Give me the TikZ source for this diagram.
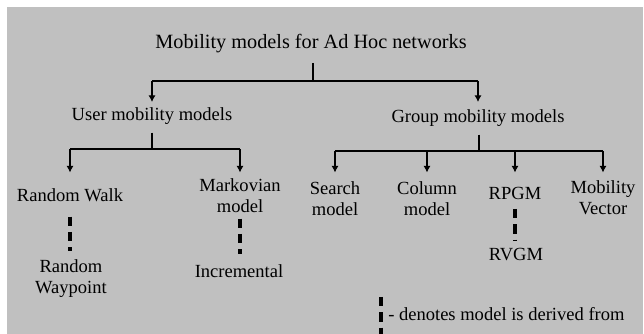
\documentclass[tikz,border=0pt]{standalone}
\usepackage{fontspec}
\setmainfont{Liberation Serif}
\usetikzlibrary{arrows.meta}
\definecolor{panelgray}{RGB}{192,192,192}

\begin{document}
\begin{tikzpicture}[x=0.75pt, y=-0.75pt,
  label/.style={inner sep=2pt, align=center, font=\fontsize{13.9}{15.75}\selectfont},
  bar/.style={line width=1.6pt},
  stem/.style={line width=1.1pt},
  branch/.style={-{Latex[length=5pt,width=5.5pt]}, line width=2pt},
  derived/.style={line width=2.5pt, dash pattern=on 7pt off 4.5pt}]
\useasboundingbox (0,0) rectangle (644,334);
\fill[panelgray] (7,7) rectangle (643,334);

\coordinate (rootbar) at (313,81);
\coordinate (midrow) at (0,102);
\coordinate (userbar) at (152,149);
\coordinate (groupbar) at (479,151);
\coordinate (leafrow) at (0,172.5);

\node[label, font=\fontsize{15.2}{18}\selectfont, anchor=base] (root) at (311,49) {Mobility models for Ad Hoc networks};
\node[label, anchor=base] (user) at (152,121) {User mobility models};
\node[label, anchor=base] (group) at (478,123) {Group mobility models};

\node[label, anchor=north] (rw) at (70,185.3) {Random Walk};
\node[label, anchor=north] (mark) at (240,175.3) {Markovian\\model};
\node[label, anchor=north] (search) at (335,178.3) {Search\\model};
\node[label, anchor=north] (column) at (427,178.3) {Column\\model};
\node[label, anchor=north] (rpgm) at (515,184.3) {RPGM};
\node[label, anchor=north] (mobvec) at (603,177.3) {Mobility\\Vector};

\node[label, anchor=north] (rwp) at (71,256.3) {Random\\Waypoint};
\node[label, anchor=north] (incr) at (239,261.3) {Incremental};
\node[label, anchor=north] (rvgm) at (516,245.3) {RVGM};

% tree
\draw[stem, shorten <=5pt] (root.south -| rootbar) -- (rootbar);
\draw[bar] (user |- rootbar) -- (group |- rootbar);
\foreach \n in {user,group}
  \draw[branch] (\n |- rootbar) -- (\n |- midrow);

\draw[stem, shorten <=3.5pt] (user.south) -- (userbar);
\draw[bar] (rw |- userbar) -- (mark |- userbar);
\foreach \n in {rw,mark}
  \draw[branch] (\n |- userbar) -- (\n |- leafrow);

\draw[stem, shorten <=3.5pt] (group.south -| groupbar) -- (groupbar);
\draw[bar] (search |- groupbar) -- (mobvec |- groupbar);
\foreach \n in {search,column,rpgm,mobvec}
  \draw[branch] (\n |- groupbar) -- (\n |- leafrow);

% derived from
\draw[derived, shorten <=9.2pt, shorten >=4pt] (rw.south) -- (rw.south |- rwp.north);
\draw[derived, shorten <=2.5pt, shorten >=5.5pt] (mark.south) -- (mark.south |- incr.north);
\draw[derived, shorten <=4.7pt, shorten >=4pt] (rpgm.south) -- (rpgm.south |- rvgm.north);

% key
\coordinate (keytop) at (381,297);
\coordinate (keybot) at (381,334);
\draw[derived] (keytop) -- (keybot);
\node[label, anchor=base west, inner sep=0pt] (key) at (388,321) {- denotes model is derived from};
\end{tikzpicture}
\end{document}
